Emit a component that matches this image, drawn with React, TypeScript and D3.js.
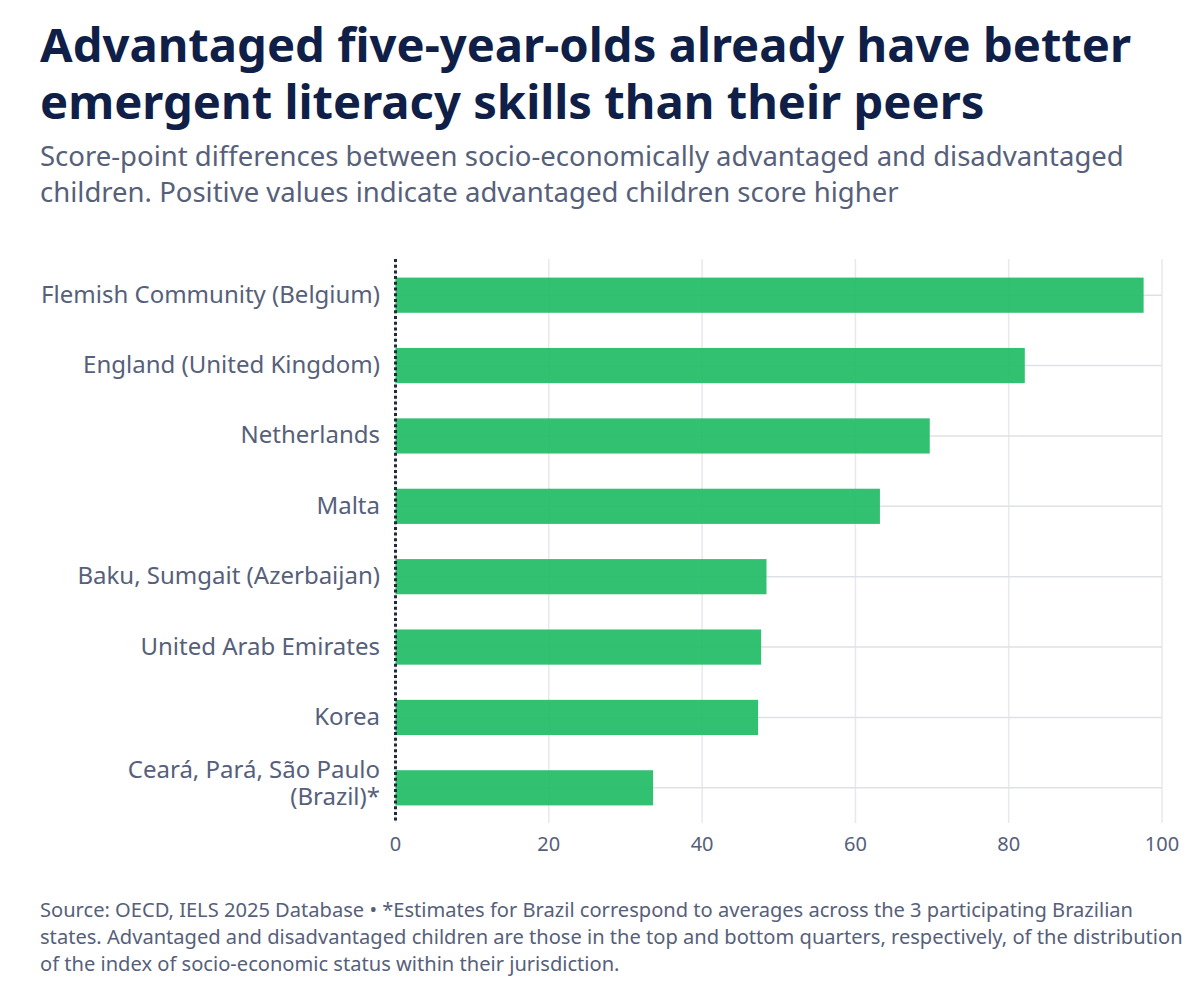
import React from "react";
import * as d3 from "d3";

const categories = ["Flemish Community (Belgium)", "England (United Kingdom)", "Netherlands", "Malta", "Baku, Sumgait (Azerbaijan)", "United Arab Emirates", "Korea", "Ceará, Pará, São Paulo (Brazil)*"];
const values = [97.6, 82.1, 69.7, 63.2, 48.4, 47.7, 47.3, 33.6];
const ticks = [0, 20, 40, 60, 80, 100];
const titleLines = ["Advantaged five-year-olds already have better", "emergent literacy skills than their peers"];
const subtitleLines = ["Score-point differences between socio-economically advantaged and disadvantaged", "children. Positive values indicate advantaged children score higher"];
const footLines = ["Source: OECD, IELS 2025 Database • *Estimates for Brazil correspond to averages across the 3 participating Brazilian", "states. Advantaged and disadvantaged children are those in the top and bottom quarters, respectively, of the distribution", "of the index of socio-economic status within their jurisdiction."];

const font = "'Noto Sans', sans-serif";

export default function App() {
  const x = d3.scaleLinear().domain([0, 100]).range([395.5, 1162]);
  const y = d3.scaleBand().domain(categories).range([260, 823]).paddingInner(0.5).paddingOuter(0.25);
  const bw = y.bandwidth();
  return (
    <svg width={1200} height={992} style={{ position: "absolute", left: 0, top: 0, background: "#fff" }} fontFamily={font}>
      {titleLines.map((t, i) => <text key={t} x={40} y={62 + i * 57} fontSize={47.2} fontWeight={700} fill="#0f1f47">{t}</text>)}
      {subtitleLines.map((t, i) => <text key={t} x={40} y={166 + i * 36} fontSize={27.5} fill="#56607a">{t}</text>)}
      {ticks.map(t => <line key={t} x1={x(t)} x2={x(t)} y1={259} y2={823} stroke="#e8e9ed" strokeWidth={1.5} />)}
      {categories.map(c => <line key={c} x1={395} x2={1162} y1={y(c)! + bw / 2} y2={y(c)! + bw / 2} stroke="#e0e1e6" strokeWidth={1.5} />)}
      {categories.map((c, i) => <rect key={c} x={x(0)} y={y(c)} width={x(values[i]) - x(0)} height={bw} fill="#22bb66" fillOpacity={0.93} />)}
      <line x1={x(0)} x2={x(0)} y1={259} y2={823} stroke="#1f2937" strokeWidth={3} strokeDasharray="3 2.7" />
      {categories.map(c => {
        const cy = y(c)! + bw / 2;
        if (c.startsWith("Ceará")) {
          return <g key={c}>
            <text x={380} y={cy - 10} textAnchor="end" fontSize={24} fill="#56607a">Ceará, Pará, São Paulo</text>
            <text x={380} y={cy + 17} textAnchor="end" fontSize={24} fill="#56607a">(Brazil)*</text>
          </g>;
        }
        return <text key={c} x={380} y={cy + 7.5} textAnchor="end" fontSize={24} fill="#56607a">{c}</text>;
      })}
      {ticks.map(t => <text key={t} x={x(t)} y={851} textAnchor="middle" fontSize={20} fill="#56607a">{t}</text>)}
      {footLines.map((t, i) => <text key={t} x={40} y={917 + i * 27} fontSize={20.1} fill="#56607a">{t}</text>)}
    </svg>
  );
}
